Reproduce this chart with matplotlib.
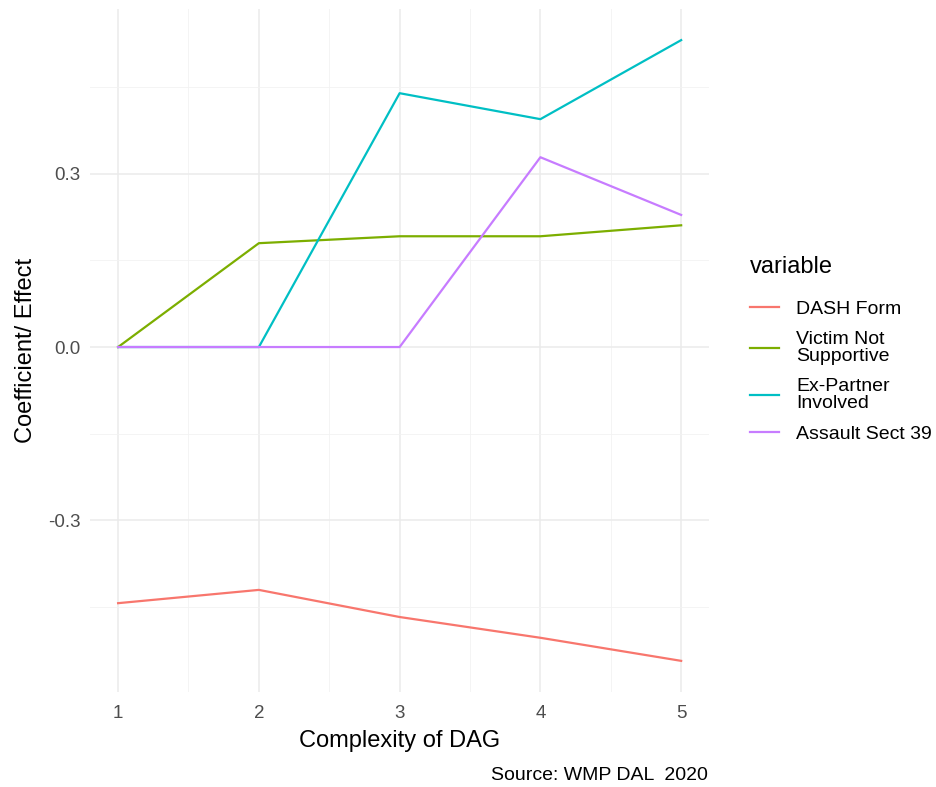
import matplotlib.pyplot as plt

plt.rcParams['font.family'] = ['Liberation Sans', 'DejaVu Sans']

# values
complexity = [1, 2, 3, 4, 5]
dash_form = [-0.444, -0.421, -0.468, -0.504, -0.544]
victim_not_supportive = [0.0, 0.180, 0.192, 0.192, 0.211]
ex_partner = [0.0, 0.0, 0.440, 0.395, 0.532]
assault_sect39 = [0.0, 0.0, 0.0, 0.329, 0.229]

series = [
    ('DASH Form', dash_form, '#F8766D'),
    ('Victim Not\nSupportive', victim_not_supportive, '#7CAE00'),
    ('Ex-Partner\nInvolved', ex_partner, '#00BFC4'),
    ('Assault Sect 39', assault_sect39, '#C77CFF'),
]

fig = plt.figure(figsize=(9.37, 7.87), dpi=100)
ax = fig.add_axes([0.096, 0.1207, 0.661, 0.8679])

for label, vals, col in series:
    ax.plot(complexity, vals, color=col, lw=1.6, label=label)

ax.set_xlim(0.8, 5.2)
ax.set_ylim(-0.598, 0.586)
ax.set_xticks(complexity)
ax.set_xticks([1.5, 2.5, 3.5, 4.5], minor=True)
ax.set_yticks([-0.3, 0.0, 0.3])
ax.set_yticklabels(['-0.3', '0.0', '0.3'])
ax.set_yticks([-0.45, -0.15, 0.15, 0.45], minor=True)
ax.grid(which='major', color='#EBEBEB', lw=1.1)
ax.grid(which='minor', color='#F2F2F2', lw=0.6)
ax.set_axisbelow(True)
for s in ax.spines.values():
    s.set_visible(False)
ax.tick_params(which='both', length=0, labelsize=13.5, labelcolor='#4D4D4D')
ax.tick_params(axis='x', pad=9)
ax.tick_params(axis='y', pad=7)

ax.set_xlabel('Complexity of DAG', fontsize=17, labelpad=6)
ax.set_ylabel('Coefficient/ Effect', fontsize=17, labelpad=8)

fig.text(0.755, 0.004, 'Source: WMP DAL  2020', ha='right', va='bottom', fontsize=14)

leg = fig.legend(loc='upper left', bbox_to_anchor=(0.782, 0.697), frameon=False,
                 title='variable', fontsize=14, title_fontsize=17,
                 handlelength=1.5, handletextpad=0.85, labelspacing=0.7)
leg._legend_box.align = 'left'
leg._legend_box.sep = 16
for t in leg.get_texts():
    t.set_linespacing(0.95)

fig.savefig('out.png', dpi=100)
